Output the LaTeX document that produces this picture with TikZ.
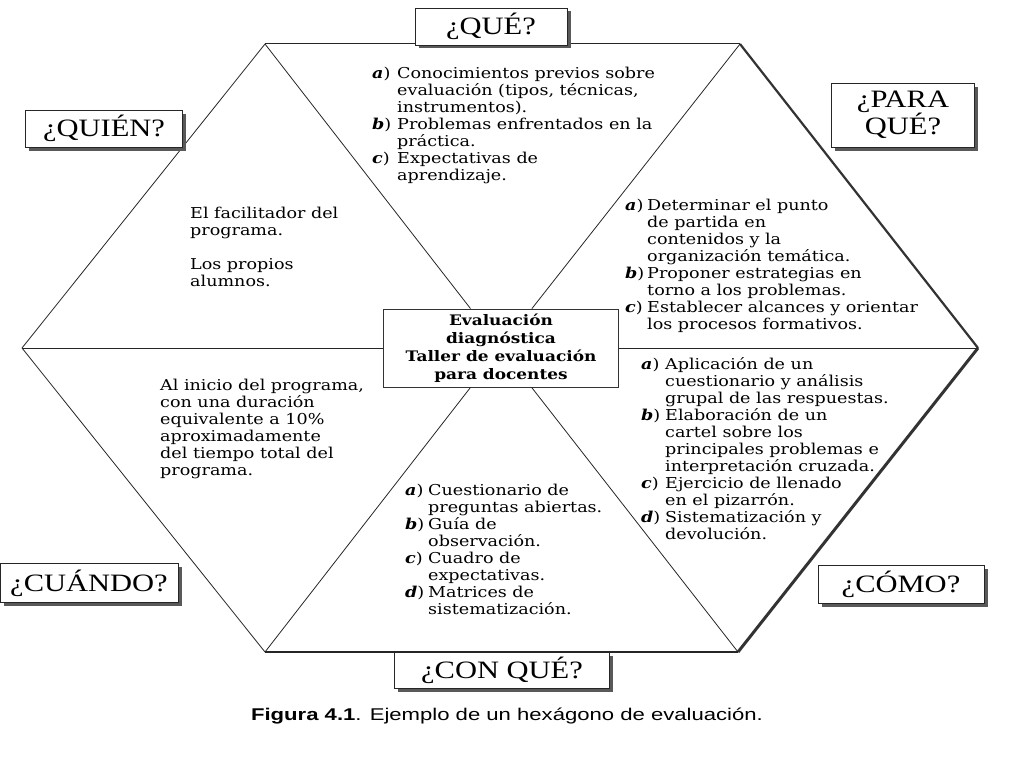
\documentclass[tikz,border=0pt]{standalone}
\usepackage{fontspec}
\setmainfont[FakeStretch=1.17]{DejaVu Serif}
\newfontfamily\titlefont[FakeStretch=1.22]{Liberation Serif}
\newfontfamily\capfont[FakeStretch=1.3]{Liberation Sans}
\usetikzlibrary{shadows}
\newcommand{\lab}[1]{\textbf{\textit{#1}})}
\begin{document}
\begin{tikzpicture}[x=1pt,y=-1pt,
  thinedge/.style={draw=black!85,line width=0.8pt},
  heavyedge/.style={draw=black!80,line width=2.2pt},
  qbox/.style={draw=black!85,line width=0.8pt,fill=white,inner sep=0pt,
    font=\titlefont\fontsize{25}{25}\selectfont,align=center,
    drop shadow={shadow xshift=3.5pt,shadow yshift=-3.5pt,fill=black!65,opacity=1}},
  body/.style={anchor=north west,inner sep=0pt,font=\fontsize{15}{17}\selectfont},
  centerbox/.style={draw=black!80,line width=0.7pt,fill=white,inner sep=0pt,
    minimum width=235pt,minimum height=78pt,align=center,
    font=\bfseries\fontsize{14.5}{18}\selectfont},
  caption/.style={inner sep=0pt,font=\capfont\fontsize{17}{20}\selectfont}
]
\useasboundingbox (0,0) rectangle (1024,768);

% hexagon vertices
\coordinate (TL) at (265,44);
\coordinate (TR) at (740,44);
\coordinate (R)  at (978,348);
\coordinate (BR) at (738,652);
\coordinate (BL) at (265,652);
\coordinate (L)  at (22,348);

% centre box
\node[centerbox] (ctr) at (501,348) {Evaluación\\diagnóstica\\Taller de evaluación\\para docentes};

% hexagon edges
\draw[thinedge,line width=1pt] (TL) -- (TR);
\draw[heavyedge] (TR) -- (R);
\draw[heavyedge,line width=3pt] (R) -- (BR);
\draw[thinedge,line width=1.4pt] (BR) -- (BL);
\draw[thinedge] (BL) -- (L);
\draw[thinedge] (L) -- (TL);

% spokes to the centre
\draw[thinedge] (TL) -- (ctr);
\draw[thinedge] (TR) -- (ctr);
\draw[thinedge] (L) -- (ctr);
\draw[thinedge] (R) -- (ctr);
\draw[thinedge] (BL) -- (ctr);
\draw[thinedge] (BR) -- (ctr);

% question labels
\node[qbox,minimum width=152pt,minimum height=37pt] (que) at (491,26.5) {¿QUÉ?};
\node[qbox,minimum width=157pt,minimum height=37pt] (quien) at (104,128.5) {¿QUIÉN?};
\node[qbox,minimum width=143pt,minimum height=64pt] (para) at (903,115) {¿PARA\\[-1pt]QUÉ?};
\node[qbox,minimum width=178pt,minimum height=39pt] (cuando) at (89,583) {¿CUÁNDO?};
\node[qbox,minimum width=166pt,minimum height=38pt] (como) at (901,584) {¿CÓMO?};
\node[qbox,minimum width=215pt,minimum height=36pt] (conque) at (502,670) {¿CON QUÉ?};

% texts of the six sectors
\node[body] (tque) at (372,66) {\begin{tabular}{@{}p{25pt}@{}l@{}}
\lab{a} & Conocimientos previos sobre\\
 & evaluación (tipos, técnicas,\\
 & instrumentos).\\
\lab{b} & Problemas enfrentados en la\\
 & práctica.\\
\lab{c} & Expectativas de\\
 & aprendizaje.
\end{tabular}};

\node[body] (tquien) at (190,206) {\begin{tabular}{@{}l@{}}
El facilitador del\\
programa.\\
\\
Los propios\\
alumnos.
\end{tabular}};

\node[body] (tpara) at (625,198) {\begin{tabular}{@{}p{22pt}@{}l@{}}
\lab{a} & Determinar el punto\\
 & de partida en\\
 & contenidos y la\\
 & organización temática.\\
\lab{b} & Proponer estrategias en\\
 & torno a los problemas.\\
\lab{c} & Establecer alcances y orientar\\
 & los procesos formativos.
\end{tabular}};

\node[body] (tcuando) at (160,378) {\begin{tabular}{@{}l@{}}
Al inicio del programa,\\
con una duración\\
equivalente a 10\%\\
aproximadamente\\
del tiempo total del\\
programa.
\end{tabular}};

\node[body] (tcomo) at (641,357) {\begin{tabular}{@{}p{24pt}@{}l@{}}
\lab{a} & Aplicación de un\\
 & cuestionario y análisis\\
 & grupal de las respuestas.\\
\lab{b} & Elaboración de un\\
 & cartel sobre los\\
 & principales problemas e\\
 & interpretación cruzada.\\
\lab{c} & Ejercicio de llenado\\
 & en el pizarrón.\\
\lab{d} & Sistematización y\\
 & devolución.
\end{tabular}};

\node[body] (tconque) at (405,483) {\begin{tabular}{@{}p{23pt}@{}l@{}}
\lab{a} & Cuestionario de\\
 & preguntas abiertas.\\
\lab{b} & Guía de\\
 & observación.\\
\lab{c} & Cuadro de\\
 & expectativas.\\
\lab{d} & Matrices de\\
 & sistematización.
\end{tabular}};

% caption
\node[caption] (cap) at (507,716) {\textbf{Figura 4.1}. Ejemplo de un hexágono de evaluación.};
\end{tikzpicture}
\end{document}
